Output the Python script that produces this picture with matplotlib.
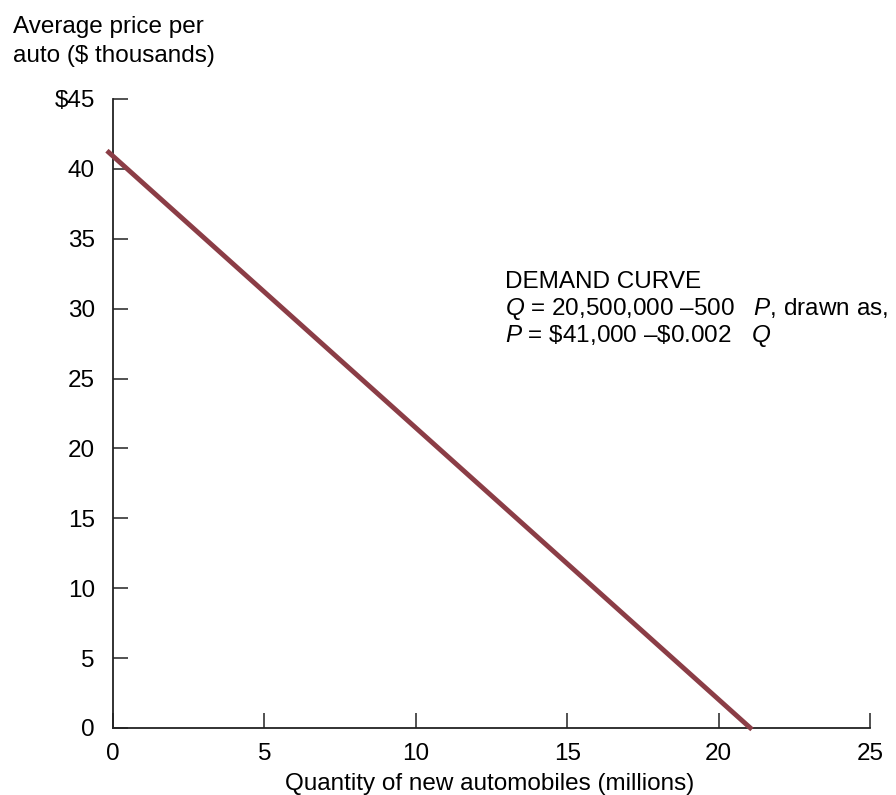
import matplotlib
matplotlib.use("Agg")
import matplotlib.pyplot as plt

plt.rcParams["font.family"] = ["Liberation Sans", "DejaVu Sans"]
plt.rcParams["mathtext.fontset"] = "custom"
plt.rcParams["mathtext.rm"] = "Liberation Sans"
plt.rcParams["mathtext.it"] = "Liberation Sans:italic"

# Demand curve endpoints (quantity in millions, price in $ thousands)
quantity = [-0.2, 21.1]
price = [41.3, -0.1]

x_ticks = [0, 5, 10, 15, 20, 25]
x_tick_labels = ["0", "5", "10", "15", "20", "25"]
y_ticks = [0, 5, 10, 15, 20, 25, 30, 35, 40, 45]
y_tick_labels = ["0", "5", "10", "15", "20", "25", "30", "35", "40", "$45"]

y_title_lines = ["Average price per", "auto ($ thousands)"]
x_title = "Quantity of new automobiles (millions)"
note_lines = [
    "DEMAND CURVE",
    r"$Q$ = 20,500,000 –500   $P$, drawn as,",
    r"$P$ = \$41,000 –\$0.002   $Q$",
]

FS = 17.5
W, H = 896, 795


def px(x, y):
    """Pixel position from the top-left corner to figure fraction."""
    return x / W, 1 - y / H


fig = plt.figure(figsize=(W / 100, H / 100), dpi=100)
ax = fig.add_axes([0.1261, 0.0843, 0.971 - 0.1261, 0.8755 - 0.0843])

ax.plot(quantity, price, color="#8B3D46", lw=3.5, solid_capstyle="butt",
        clip_on=False, zorder=3)

ax.set_xlim(0, 25)
ax.set_ylim(0, 45)
ax.set_xticks(x_ticks)
ax.set_xticklabels(x_tick_labels)
ax.set_yticks(y_ticks)
ax.set_yticklabels(y_tick_labels)

for side in ("top", "right"):
    ax.spines[side].set_visible(False)
for side in ("left", "bottom"):
    ax.spines[side].set_color("#222222")
    ax.spines[side].set_linewidth(1.3)

ax.tick_params(axis="both", direction="in", length=11, width=1.1,
               color="#222222", labelsize=FS)
ax.tick_params(axis="y", pad=13)
ax.tick_params(axis="x", pad=11)

# axis titles
for line, base in zip(y_title_lines, [33, 62]):
    fig.text(*px(13, base), line, ha="left", va="baseline", fontsize=FS)
fig.text(*px(490, 790), x_title, ha="center", va="baseline", fontsize=FS)

# equation note
for line, base in zip(note_lines, [288, 315, 342]):
    fig.text(*px(505, base), line, ha="left", va="baseline", fontsize=FS)

fig.savefig("out.png", dpi=100)
